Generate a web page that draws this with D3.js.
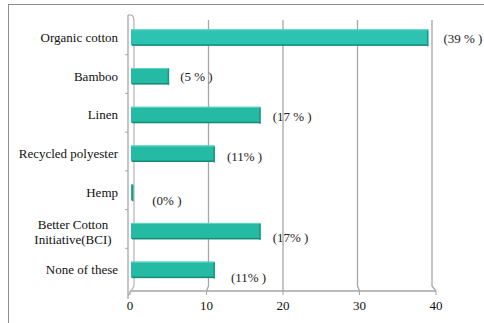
<!DOCTYPE html>
<html>
<head>
<meta charset="utf-8">
<script src="https://cdn.jsdelivr.net/npm/d3@7.9.0/dist/d3.min.js"></script>
<style>
  html, body { margin: 0; padding: 0; background: #fff; }
</style>
</head>
<body>
<svg id="chart" width="484" height="323"></svg>
<script>
// data
const categories = ['Organic cotton', 'Bamboo', 'Linen', 'Recycled polyester', 'Hemp',
  'Better Cotton Initiative(BCI)', 'None of these'];
const values = [39, 5, 17, 11, 0.3, 17, 11];
const valueLabels = ['(39 % )', '(5 % )', '(17 % )', '(11% )', '(0% )', '(17% )', '(11% )'];
const xTicks = [0, 10, 20, 30, 40];

// label nudges (layout only), in px from bar end / bar centre
const labelDx = [15, 11, 12, 12, 19, 12, 16];
const labelDy = [1, 0, 2, 3, 8, 7, 8];

const serif = 'Liberation Serif';

const svg = d3.select('#chart');

// outer frame
svg.append('rect')
  .attr('x', 8.5).attr('y', 4.5)
  .attr('width', 520).attr('height', 340)
  .attr('fill', 'none').attr('stroke', '#8c8c8c');

// front and back planes of the 3D axis
const xFront = d3.scaleLinear().domain([0, 40]).range([130, 436]);
const xBack = d3.scaleLinear().domain([0, 40]).range([134, 432]);
const xBar = d3.scaleLinear().domain([0, 40]).range([131, 436]);
const y = d3.scaleBand().domain(categories).range([18, 289]);

const backTop = 20, backBottom = 286, floorY = 291;

// gridlines (back wall to floor)
xTicks.slice(1).forEach(t => {
  svg.append('path')
    .attr('d', `M${xBack(t)},${backTop} L${xBack(t)},${backBottom} L${xFront(t)},${floorY}`)
    .attr('fill', 'none').attr('stroke', '#a6a6a6').attr('stroke-width', 1.3);
});

// floor line
svg.append('line')
  .attr('x1', xFront(0)).attr('x2', xFront(40))
  .attr('y1', floorY).attr('y2', floorY)
  .attr('stroke', '#a6a6a6').attr('stroke-width', 1.3);

// left wall: back edge and front axis
svg.append('path')
  .attr('d', `M${xBack(0)},${backTop + 3} L${xBack(0)},${backBottom} L${xFront(0) - 2},${floorY + 5}`)
  .attr('fill', 'none').attr('stroke', '#b3b3b3').attr('stroke-width', 1.2);
svg.append('path')
  .attr('d', `M${xFront(0) - 2},15 L${xFront(0) + 1},15 Q${xBack(0)},15 ${xBack(0)},${backTop + 3}`)
  .attr('fill', 'none').attr('stroke', '#a6a6a6').attr('stroke-width', 1.2);
svg.append('line')
  .attr('x1', xFront(0) - 2).attr('x2', xFront(0) - 2)
  .attr('y1', 15).attr('y2', floorY + 8)
  .attr('stroke', '#a6a6a6').attr('stroke-width', 1.3);

// category ticks
categories.slice(1).forEach(c => {
  svg.append('line')
    .attr('x1', xFront(0) - 5).attr('x2', xFront(0) - 2)
    .attr('y1', y(c) - 2).attr('y2', y(c) - 2)
    .attr('stroke', '#a6a6a6');
});

// x axis ticks and labels
xTicks.forEach(t => {
  svg.append('line')
    .attr('x1', xFront(t)).attr('x2', xFront(t))
    .attr('y1', floorY).attr('y2', floorY + 4)
    .attr('stroke', '#a6a6a6');
  svg.append('text')
    .attr('x', xFront(t)).attr('y', 310)
    .attr('text-anchor', 'middle')
    .style('font-family', serif)
    .style('font-size', '13px')
    .attr('fill', '#111')
    .text(t);
});

// bars with a little 3D shading
const barH = 16;
const bars = svg.append('g');
categories.forEach((c, i) => {
  const yc = y(c) + y.bandwidth() / 2;
  const x0 = xBar(0), x1 = xBar(values[i]);
  const g = bars.append('g');
  g.append('rect')
    .attr('x', x0).attr('y', yc - barH / 2)
    .attr('width', x1 - x0).attr('height', barH)
    .attr('fill', i === 0 ? '#2cc4b0' : '#24baa3');
  // bottom shadow
  g.append('rect')
    .attr('x', x0 + 1).attr('y', yc + barH / 2 - 1)
    .attr('width', Math.max(0, x1 - x0 - 1)).attr('height', 1.5)
    .attr('fill', '#168a77');
  // right face
  g.append('rect')
    .attr('x', x1 - 1.5).attr('y', yc - barH / 2 + 1)
    .attr('width', 1.5).attr('height', barH)
    .attr('fill', '#1a9984');
  // top highlight
  g.append('rect')
    .attr('x', x0).attr('y', yc - barH / 2)
    .attr('width', Math.max(0, x1 - x0 - 1)).attr('height', 1)
    .attr('fill', '#5fd6c4');
});

// category labels
categories.forEach(c => {
  const yc = y(c) + y.bandwidth() / 2;
  const t = svg.append('text')
    .attr('x', 118).attr('text-anchor', 'end')
    .style('font-family', serif)
    .style('font-size', '13px')
    .attr('fill', '#111');
  if (c === 'Better Cotton Initiative(BCI)') {
    t.attr('text-anchor', 'middle').attr('x', 73);
    t.append('tspan').attr('x', 73).attr('y', yc - 2).text('Better Cotton');
    t.append('tspan').attr('x', 73).attr('y', yc + 13).text('Initiative(BCI)');
  } else {
    t.attr('y', yc + 4.5).text(c);
  }
});

// value labels
categories.forEach((c, i) => {
  const yc = y(c) + y.bandwidth() / 2;
  svg.append('text')
    .attr('x', xBar(values[i]) + labelDx[i])
    .attr('y', yc + labelDy[i] + 4.5)
    .style('font-family', serif)
    .style('font-size', '13px')
    .attr('fill', '#222')
    .text(valueLabels[i]);
});
</script>
</body>
</html>
